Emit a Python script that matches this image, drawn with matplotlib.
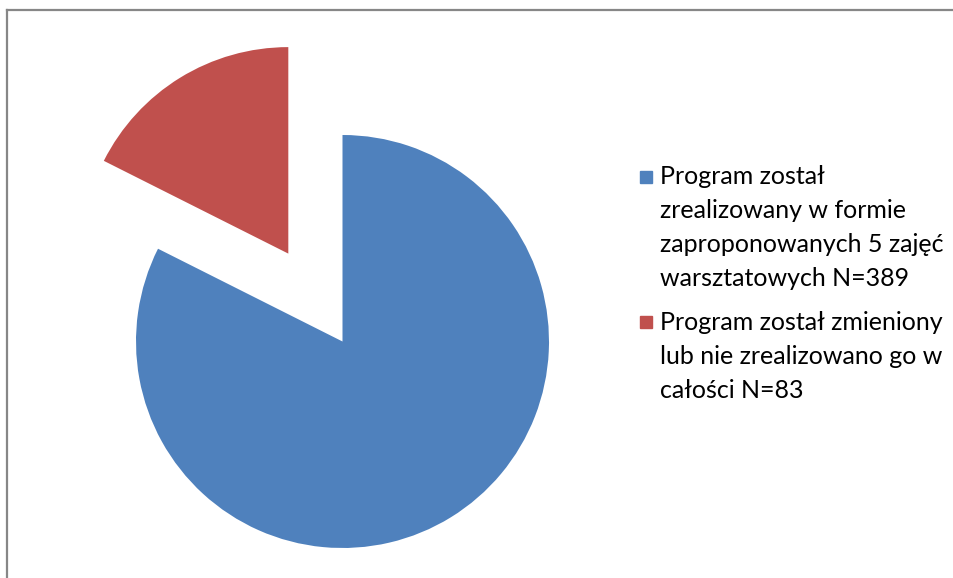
import matplotlib
matplotlib.use("Agg")
import matplotlib.pyplot as plt
from matplotlib.patches import Rectangle
from matplotlib.lines import Line2D

W, H = 954, 578

labels = [
    ["Program został", "zrealizowany w formie", "zaproponowanych 5 zajęć", "warsztatowych N=389"],
    ["Program został zmieniony", "lub nie zrealizowano go w", "całości N=83"],
]
counts = [389, 83]
colors = ["#4F81BD", "#C0504D"]
explode = [0, 0.5]

fig = plt.figure(figsize=(W / 100, H / 100), dpi=100)
ax = fig.add_axes([0, 0, 1, 1])

ax.pie(counts, colors=colors, explode=explode, startangle=90,
       counterclock=False, radius=1, wedgeprops=dict(linewidth=0))

# pixel mapping: centre (342.5, 341.5), radius 206.5 px
cx, cy, r = 342.5, 341.5, 206.5
ax.set_aspect("auto")
ax.set_xlim((0 - cx) / r, (W - cx) / r)
ax.set_ylim((cy - H) / r, cy / r)
ax.axis("off")


def fx(x):
    return x / W


def fy(y):
    return 1 - y / H


# frame of the chart area (left and top)
fig.add_artist(Line2D([fx(7), fx(7)], [fy(H + 5), fy(9.5)], color="#878787", lw=1.6))
fig.add_artist(Line2D([fx(7), fx(W + 5)], [fy(9.5), fy(9.5)], color="#878787", lw=1.6))

# heading cut off at top of the image
fig.text(fx(0), fy(-8), "realizacji programu", family="Liberation Serif",
         fontsize=26, va="baseline", ha="left")

# legend
starts = [177, 322]
step = 34
for lab, col, y0 in zip(labels, colors, starts):
    fig.add_artist(Rectangle((fx(640), fy(y0 + 6)), 12 / W, 12 / H,
                             transform=fig.transFigure, color=col))
    for k, line in enumerate(lab):
        fig.text(fx(660), fy(y0 + k * step), line, family="Lato",
                 fontsize=18, va="center", ha="left", color="#000000")

fig.savefig("out.png", dpi=100)
